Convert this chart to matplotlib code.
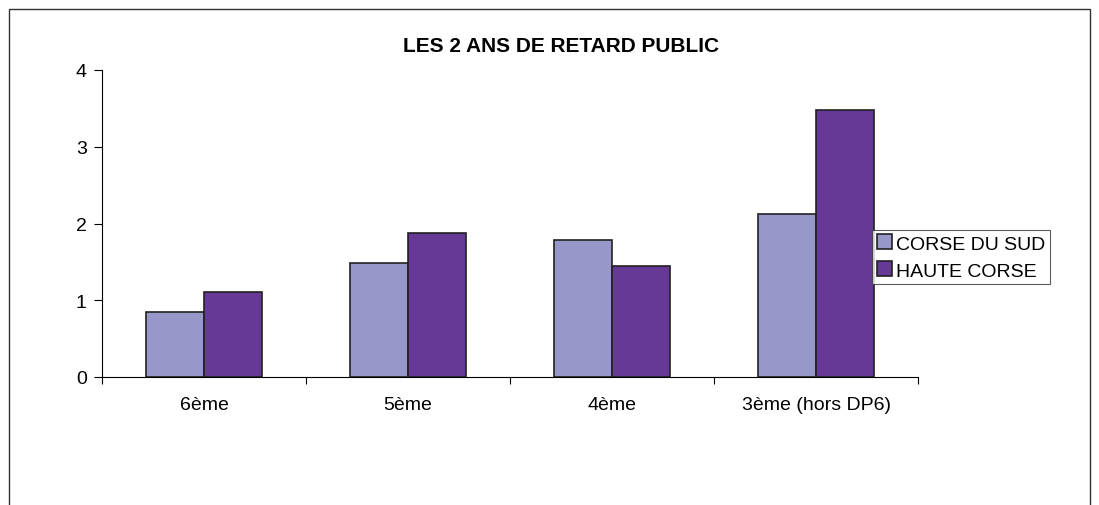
import numpy as np
import matplotlib.pyplot as plt
from matplotlib.patches import Rectangle

categories = ['6ème', '5ème', '4ème', '3ème (hors DP6)']
corse_du_sud = [0.85, 1.49, 1.79, 2.12]
haute_corse = [1.11, 1.88, 1.45, 3.48]
series_names = ['CORSE DU SUD', 'HAUTE CORSE']
colors = ['#9797C9', '#663996']

plt.rcParams['font.family'] = ['Liberation Sans', 'DejaVu Sans']

fig = plt.figure(figsize=(10.99, 5.06), dpi=100)
# outer frame of the chart area (bottom edge is cut off)
fig.patches.append(Rectangle((9 / 1099, -0.05), 1081 / 1099, 1.05 - 10 / 506,
                             transform=fig.transFigure, fill=False,
                             edgecolor='#333333', linewidth=1.0))

ax = fig.add_axes([102 / 1099, 1 - 378 / 506, 816 / 1099, 307 / 506])

x = np.arange(len(categories))
w = 0.285
ax.bar(x - w / 2, corse_du_sud, w, color=colors[0], edgecolor='#222222',
       linewidth=1.2, label=series_names[0])
ax.bar(x + w / 2, haute_corse, w, color=colors[1], edgecolor='#222222',
       linewidth=1.2, label=series_names[1])

ax.set_xlim(-0.5, len(categories) - 0.5)
ax.set_ylim(0, 4)
ax.set_yticks([0, 1, 2, 3, 4])
ax.set_xticks(np.arange(len(categories) + 1) - 0.5)
ax.set_xticklabels([])
ax.set_xticks(x, minor=True)
ax.set_xticklabels(categories, minor=True)
ax.tick_params(axis='x', which='minor', length=0, pad=14, labelsize=14)
ax.tick_params(axis='x', which='major', length=5, direction='out')
ax.tick_params(axis='y', length=6, direction='out', labelsize=14, pad=5)
for s in ['top', 'right']:
    ax.spines[s].set_visible(False)

fig.text(561 / 1099, 1 - 47 / 506, 'LES 2 ANS DE RETARD PUBLIC', fontsize=15,
         fontweight='bold', ha='center', va='center')

leg = ax.legend(loc='center left', bbox_to_anchor=(872 / 1099, 1 - 258 / 506),
                bbox_transform=fig.transFigure, fontsize=14, frameon=True,
                fancybox=False, edgecolor='#333333', handlelength=0.8,
                handleheight=0.8, handletextpad=0.2, borderpad=0.25,
                labelspacing=0.45, borderaxespad=0)
leg.get_frame().set_linewidth(0.8)

fig.savefig('out.png', dpi=100)
